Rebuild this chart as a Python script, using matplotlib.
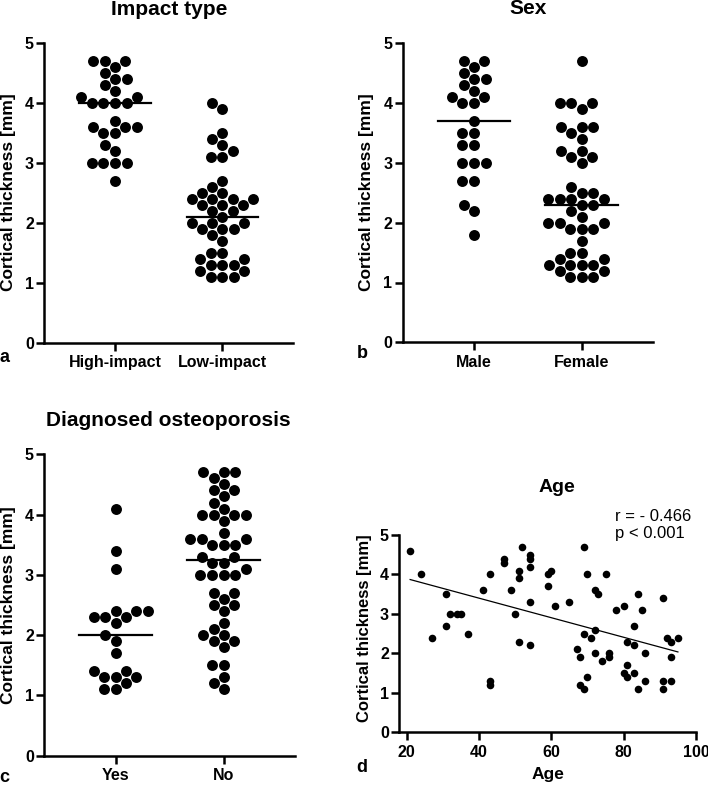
import numpy as np
import matplotlib
matplotlib.use("Agg")
import matplotlib.pyplot as plt

plt.rcParams['font.family'] = ['Liberation Sans', 'DejaVu Sans']

# ---------------- data ----------------
impact_categories = ["High-impact", "Low-impact"]
high_impact = [4.7, 4.7, 4.7, 4.6, 4.5, 4.4, 4.4, 4.3, 4.2, 4.1, 4.1, 4.0, 4.0, 4.0, 4.0,
               3.7, 3.6, 3.6, 3.6, 3.5, 3.5, 3.3, 3.2, 3.0, 3.0, 3.0, 3.0, 2.7]
low_impact = [4.0, 3.9, 3.5, 3.4, 3.3, 3.2, 3.1, 3.1, 2.7, 2.6, 2.5, 2.5, 2.4, 2.4, 2.4, 2.4,
              2.3, 2.3, 2.3, 2.2, 2.2, 2.1, 2.0, 2.0, 2.0, 1.9, 1.9, 1.9, 1.8, 1.7,
              1.5, 1.5, 1.4, 1.4, 1.3, 1.3, 1.3, 1.2, 1.2, 1.1, 1.1, 1.1]
impact_medians = [4.0, 2.1]

sex_categories = ["Male", "Female"]
male = [4.7, 4.7, 4.6, 4.5, 4.4, 4.4, 4.3, 4.2, 4.1, 4.1, 4.0, 4.0, 3.7, 3.5, 3.5,
        3.3, 3.3, 3.0, 3.0, 3.0, 2.7, 2.7, 2.3, 2.2, 1.8]
female = [4.7, 4.0, 4.0, 4.0, 3.9, 3.6, 3.6, 3.6, 3.5, 3.4, 3.2, 3.2, 3.1, 3.1, 3.0,
          2.6, 2.5, 2.5, 2.4, 2.4, 2.4, 2.4, 2.3, 2.3, 2.2, 2.1, 2.0, 2.0, 2.0,
          1.9, 1.9, 1.9, 1.7, 1.5, 1.5, 1.4, 1.4, 1.3, 1.3, 1.3, 1.3, 1.2, 1.2,
          1.1, 1.1, 1.1]
sex_medians = [3.7, 2.3]

osteo_categories = ["Yes", "No"]
osteo_yes = [4.1, 3.4, 3.1, 2.4, 2.4, 2.4, 2.3, 2.3, 2.3, 2.2, 2.0, 1.9, 1.7,
             1.4, 1.4, 1.3, 1.3, 1.3, 1.2, 1.1, 1.1]
osteo_no = [4.7, 4.7, 4.7, 4.6, 4.5, 4.4, 4.4, 4.3, 4.2, 4.1, 4.0, 4.0, 4.0, 4.0,
            3.9, 3.7, 3.6, 3.6, 3.6, 3.5, 3.5, 3.5, 3.3, 3.3, 3.2, 3.2, 3.1,
            3.0, 3.0, 3.0, 3.0, 2.7, 2.7, 2.6, 2.5, 2.5, 2.4, 2.2, 2.1, 2.0, 2.0,
            1.9, 1.9, 1.8, 1.5, 1.5, 1.3, 1.2, 1.1]
osteo_medians = [2.0, 3.25]

age = [21, 24, 27, 31, 31, 32, 34, 35, 37, 41, 43, 43, 43, 47, 47, 49, 50, 51, 51, 51,
       52, 54, 54, 54, 54, 54, 59, 59, 60, 61, 65, 67, 68, 68, 69, 69, 69, 70, 70, 71,
       72, 72, 72, 73, 74, 75, 76, 76, 78, 80, 80, 81, 81, 81, 83, 83, 83, 84, 84, 85,
       86, 86, 91, 91, 91, 92, 93, 93, 93, 95]
age_thickness = [4.6, 4.0, 2.4, 3.5, 2.7, 3.0, 3.0, 3.0, 2.5, 3.6, 4.0, 1.3, 1.2, 4.4, 4.3,
                 3.6, 3.0, 4.1, 3.9, 2.3, 4.7, 4.5, 4.4, 4.2, 3.3, 2.2, 3.7, 4.0, 4.1, 3.2,
                 3.3, 2.1, 1.9, 1.2, 1.1, 2.5, 4.7, 4.0, 1.4, 2.4, 2.6, 2.0, 3.6, 3.5, 1.8,
                 4.0, 2.0, 1.9, 3.1, 3.2, 1.5, 1.7, 1.4, 2.3, 2.7, 2.2, 1.5, 3.5, 1.1, 3.1,
                 2.0, 1.3, 3.4, 1.3, 1.1, 2.4, 2.3, 1.9, 1.3, 2.4]
stats_text = "r = - 0.466\np < 0.001"

# ---------------- figure ----------------
W, H = 708, 785
fig = plt.figure(figsize=(W / 100, H / 100), dpi=100)

def fx(px):
    return px / W

def fy(py):
    return 1 - py / H

def make_axes(left, top, right, bottom):
    return fig.add_axes([fx(left), fy(bottom), fx(right - left), (bottom - top) / H])

SPINE_W = 1.8
TICK_FONT = 11.5
LABEL_FONT = 12.5

def style_axes(ax):
    for s in ['top', 'right']:
        ax.spines[s].set_visible(False)
    for s in ['left', 'bottom']:
        ax.spines[s].set_linewidth(SPINE_W)
    ax.tick_params(axis='both', width=SPINE_W, length=6, labelsize=TICK_FONT)
    ax.tick_params(axis='y', pad=1.5)
    ax.tick_params(axis='x', pad=3)
    for lab in ax.get_xticklabels() + ax.get_yticklabels():
        lab.set_fontweight('bold')


def swarm_offsets(values, d_px, px_per_x, px_per_y):
    order = np.argsort(values)
    placed = []
    offs = np.zeros(len(values))
    for i in order:
        y = values[i] * px_per_y
        cands = [0.0]
        for (px, py) in placed:
            dy = y - py
            if abs(dy) < d_px:
                dx = np.sqrt(d_px ** 2 - dy ** 2)
                cands += [px + dx, px - dx]
        cands = sorted(cands, key=lambda c: (abs(c), c))
        chosen = 0.0
        for c in cands:
            if all(np.hypot(c - px, y - py) >= d_px - 1e-6 for (px, py) in placed):
                chosen = c
                break
        placed.append((chosen, y))
        offs[i] = chosen / px_per_x
    return offs


XLIM = (-0.66, 1.66)

def dot_panel(ax, cats, groups, medians):
    ax.set_xlim(*XLIM)
    ax.set_ylim(0, 5)
    bbox = ax.get_position()
    px_per_x = bbox.width * W / (XLIM[1] - XLIM[0])
    px_per_y = bbox.height * H / 5.0
    for i, vals in enumerate(groups):
        vals = np.asarray(vals, dtype=float)
        offs = swarm_offsets(vals, 11.8, px_per_x, px_per_y)
        ax.scatter(i + offs, vals, s=62, color='black', linewidths=0, zorder=3,
                   clip_on=False)
        ax.plot([i - 0.335, i + 0.335], [medians[i], medians[i]], color='black',
                lw=1.6, zorder=4)
    ax.set_xticks(range(len(cats)))
    ax.set_xticklabels(cats)
    ax.set_yticks(range(6))
    style_axes(ax)


ax_a = make_axes(44.3, 43.3, 293.3, 343.0)
dot_panel(ax_a, impact_categories, [high_impact, low_impact], impact_medians)

ax_b = make_axes(402.7, 43.3, 652.7, 342.3)
dot_panel(ax_b, sex_categories, [male, female], sex_medians)

ax_c = make_axes(44.3, 454.3, 295.0, 755.7)
dot_panel(ax_c, osteo_categories, [osteo_yes, osteo_no], osteo_medians)

ax_d = make_axes(399.3, 535.0, 696.0, 732.3)
ax_d.set_xlim(18, 100)
ax_d.set_ylim(0, 5)
ax_d.scatter(age, age_thickness, s=30, color='black', linewidths=0, zorder=3, clip_on=False)
slope, intercept = np.polyfit(age, age_thickness, 1)
xs = np.array([min(age), max(age)], dtype=float)
ax_d.plot(xs, intercept + slope * xs, color='black', lw=0.9, zorder=2)
ax_d.set_xticks([20, 40, 60, 80, 100])
ax_d.set_yticks(range(6))
style_axes(ax_d)

# titles
fig.text(fx(168.8), fy(9.5), "Impact type", ha='center', va='center', fontsize=15, fontweight='bold')
fig.text(fx(527.7), fy(8.5), "Sex", ha='center', va='center', fontsize=15, fontweight='bold')
fig.text(fx(168.3), fy(420), "Diagnosed osteoporosis", ha='center', va='center', fontsize=15, fontweight='bold')
fig.text(fx(556.7), fy(488), "Age", ha='center', va='center', fontsize=14, fontweight='bold')

# y labels
for (x, y, fs) in [(8.3, 192, LABEL_FONT), (366.7, 192, LABEL_FONT), (8.3, 605.5, LABEL_FONT), (365, 628, 12)]:
    fig.text(fx(x), fy(y), "Cortical thickness [mm]", rotation=90, ha='center', va='center',
             fontsize=fs, fontweight='bold')

fig.text(fx(548), fy(775), "Age", ha='center', va='center', fontsize=LABEL_FONT, fontweight='bold')

# panel letters
for (x, y, t) in [(4, 357.5, 'a'), (362, 354, 'b'), (4, 777, 'c'), (362, 767.5, 'd')]:
    fig.text(fx(x), fy(y), t, ha='center', va='center', fontsize=13, fontweight='bold')

fig.text(fx(615), fy(525), stats_text, ha='left', va='center', fontsize=12, linespacing=1.12)

fig.savefig("out.png", dpi=100)
